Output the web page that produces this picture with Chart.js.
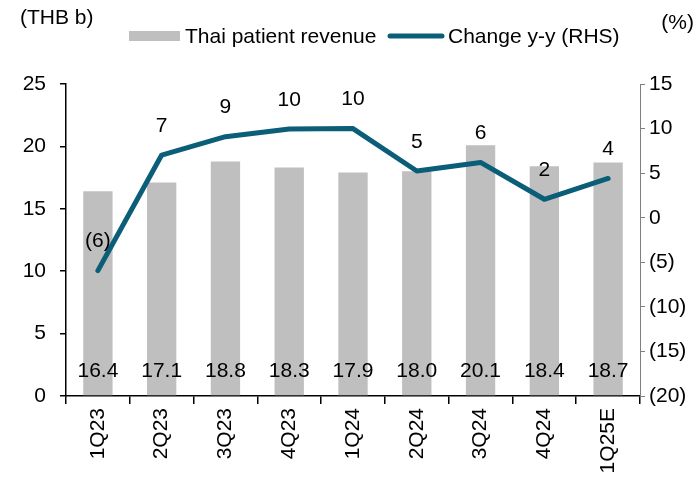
<!DOCTYPE html>
<html>
<head>
<meta charset="utf-8">
<script src="https://cdn.jsdelivr.net/npm/chart.js@4"></script>
<style>
html,body{margin:0;padding:0;background:#fff;}
#wrap{width:697px;height:477px;position:relative;}
</style>
</head>
<body>
<div id="wrap"><canvas id="c" width="697" height="477"></canvas></div>
<script>
const categories = ['1Q23','2Q23','3Q23','4Q23','1Q24','2Q24','3Q24','4Q24','1Q25E'];
const revenue = [16.4, 17.1, 18.8, 18.3, 17.9, 18.0, 20.1, 18.4, 18.7];
const changeYY = [-5.94, 7.03, 9.09, 9.95, 10.0, 5.24, 6.2, 2.07, 4.4];
const leftTicks = [0, 5, 10, 15, 20, 25];
const rightTicks = [-20, -15, -10, -5, 0, 5, 10, 15];
const seriesNames = ['Thai patient revenue', 'Change y-y (RHS)'];
const leftUnit = '(THB b)';
const rightUnit = '(%)';

const FONT = '"Liberation Sans", Arial, sans-serif';
const FS = 21;
const BAR = '#bfbfbf';
const LINE = '#0b5e77';

Chart.defaults.font.family = FONT;
Chart.defaults.font.size = FS;
Chart.defaults.color = '#000';

function fmtPct(v){ const r = Math.round(v); return r < 0 ? '(' + Math.abs(r) + ')' : String(r); }

const overlay = {
  id: 'overlay',
  afterDatasetsDraw(chart){
    const ctx = chart.ctx;
    ctx.save();
    ctx.font = FS + 'px ' + FONT;
    ctx.fillStyle = '#000';
    ctx.textAlign = 'center';
    ctx.textBaseline = 'middle';
    const barMeta = chart.getDatasetMeta(0);
    barMeta.data.forEach((el, i) => {
      ctx.fillText(revenue[i].toFixed(1), el.x, chart.chartArea.bottom - 25);
    });
    const lineMeta = chart.getDatasetMeta(1);
    lineMeta.data.forEach((el, i) => {
      ctx.fillText(fmtPct(changeYY[i]), el.x, el.y - 29);
    });
    ctx.restore();
  },
  afterDraw(chart){
    const ctx = chart.ctx;
    ctx.save();
    ctx.font = FS + 'px ' + FONT;
    ctx.fillStyle = '#000';
    ctx.textBaseline = 'middle';
    ctx.textAlign = 'left';
    ctx.fillText(leftUnit, 20, 18);
    ctx.textAlign = 'right';
    ctx.fillText(rightUnit, 694, 23);
    // legend
    ctx.fillStyle = BAR;
    ctx.fillRect(129, 31, 51, 10);
    ctx.fillStyle = '#000';
    ctx.textAlign = 'left';
    ctx.fillText(seriesNames[0], 185, 37);
    ctx.strokeStyle = LINE;
    ctx.lineWidth = 5;
    ctx.lineCap = 'round';
    ctx.beginPath();
    ctx.moveTo(390, 36);
    ctx.lineTo(442, 36);
    ctx.stroke();
    ctx.fillText(seriesNames[1], 448, 37);
    ctx.restore();
  }
};

new Chart(document.getElementById('c'), {
  data: {
    labels: categories,
    datasets: [
      {
        type: 'bar',
        label: seriesNames[0],
        data: revenue,
        backgroundColor: BAR,
        yAxisID: 'y',
        barPercentage: 0.46,
        categoryPercentage: 1.0,
        order: 2
      },
      {
        type: 'line',
        label: seriesNames[1],
        data: changeYY,
        borderColor: LINE,
        borderWidth: 5,
        pointRadius: 0,
        tension: 0,
        borderJoinStyle: 'round',
        borderCapStyle: 'round',
        yAxisID: 'y1',
        order: 1
      }
    ]
  },
  options: {
    responsive: false,
    animation: false,
    events: [],
    layout: { padding: { top: 84, left: 0, right: 0, bottom: 0 } },
    plugins: { legend: { display: false }, tooltip: { enabled: false } },
    scales: {
      x: {
        offset: true,
        grid: { drawOnChartArea: false, drawTicks: true, tickLength: 8, color: '#000', offset: true, lineWidth: 1.5 },
        border: { color: '#000', width: 1.5 },
        ticks: { minRotation: 90, maxRotation: 90, padding: 4, font: { size: FS }, color: '#000', autoSkip: false },
        afterFit(s){ s.height = 81; }
      },
      y: {
        position: 'left',
        min: 0, max: 25,
        afterBuildTicks(s){ s.ticks = leftTicks.map(v => ({ value: v })); },
        grid: { drawOnChartArea: false, drawTicks: true, tickLength: 6, color: '#000', lineWidth: 1.5 },
        border: { color: '#000', width: 1.5 },
        ticks: { padding: 14, font: { size: FS }, color: '#000' },
        afterFit(s){ s.width = 66; }
      },
      y1: {
        position: 'right',
        min: -20, max: 15,
        afterBuildTicks(s){ s.ticks = rightTicks.map(v => ({ value: v })); },
        grid: { drawOnChartArea: false, drawTicks: true, tickLength: 5, color: '#808080' },
        border: { color: '#808080', width: 1 },
        ticks: { padding: 4, font: { size: FS }, color: '#000', callback: v => v < 0 ? '(' + Math.abs(v) + ')' : String(v) },
        afterFit(s){ s.width = 57; }
      }
    }
  },
  plugins: [overlay]
});
</script>
</body>
</html>
